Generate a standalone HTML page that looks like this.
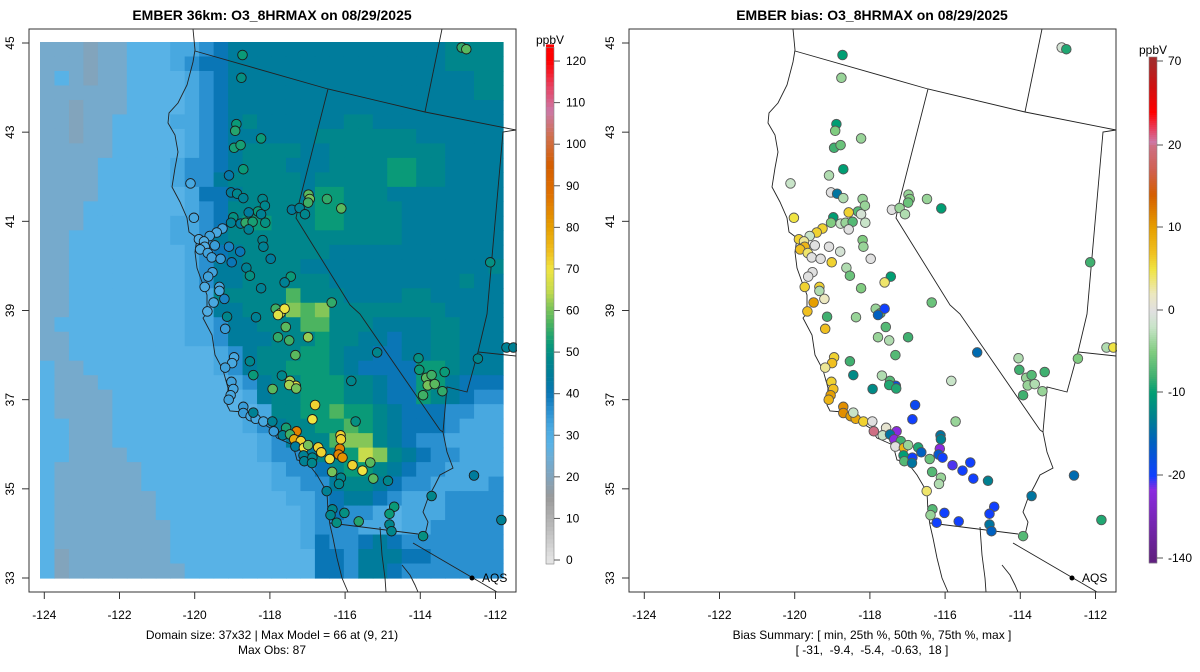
<!DOCTYPE html>
<html><head><meta charset="utf-8">
<style>
html,body{margin:0;padding:0;background:#fff;}
svg{display:block;font-family:"Liberation Sans",Arial,sans-serif;}
</style></head>
<body>
<svg id="chart" width="1200" height="672" viewBox="0 0 1200 672" xmlns="http://www.w3.org/2000/svg">
<g id="left"></g>
<g id="right" transform="translate(600,0)"></g>
</svg>
<script>
// ---------- DATA ----------
// model grid (32 cols x 37 rows), each char a level index into levelVals (ppb)
const levelChars = "abcdefghijklm";
const levelVals = [20,23,28,32,36,40,44,48,52,57,61,65,69];
const gridRows = [
"bbbabbcccddefggggggggggggggghhhh",
"bbbabbcccdeffggggggggggggggghhhh",
"bcbabbccccdefggggggggggggggggghh",
"bbbbbbccccdefggggggggggggggggghh",
"bbabbbccccdefggggggggggggggggggg",
"bbabbccccddefghgggggghhggggggggg",
"bbabbcccccdefgggggghhhhhhhgggggg",
"bbbbbcccccdefghhhhgghhhhhhhhgggg",
"bbbbcccccdeefghhhggghhhhiihhgggg",
"bbbbcccccdeeghhhhhghhhhhiihhgggg",
"bbbbccccccdffghhhhgiihhhgggggggg",
"bbbcccccccdefhhhhhhiihhhhggggggg",
"bbbccccccddefhiihhhiihhhhggggggg",
"bbcccccccddeghhhhhhhhhhhhggggggg",
"bbccccccccdefghhhhhhgggggggggggg",
"bbccccccccdegghhhhgggggggggggggh",
"bbccccccccdegghhhhhhggggggggghgg",
"bbccccccccddhhhhhjhhhgggghhggggg",
"bbccccccccddgghhhkjkhhhhhhhhgggg",
"bcccccccccddegghhhjjhhhgggghhggg",
"bbccccccccddeggghhhihhggfgghhggg",
"bbccccccccccdeghhhiihggffgghhggg",
"cbbcccccccccdeghhiiihgffffiihggg",
"cbbbcccccccccdeghhiiihhgffiigfff",
"cbbbbcccccccccdghhiiihhgffihgfee",
"cbbbbccccccccccdhhiijiihgfffeedd",
"ccbbbcccccccccdeghhiijihgfffeddd",
"ccbbbccccccccccdeghhjkkhgfeedddd",
"ccbbbbcccccccccdeeghhilkhgfeeddd",
"cbbbbbbcccccccccdeefhiihgfeedddd",
"cbbbbbbcccccccccddeeghhgfeedddde",
"cbbbbbbbcccccccccddefggfedddeeee",
"cbbbbbbbccccccccccdefeedcdddeeee",
"cbbbbbbbbcccccccccdeeeddcddeeeee",
"cbbbbbbbbcccccccccdfeefgfeeeeeee",
"cabbbbbbbccccccccccffegggffeeeee",
"cabbbbbbbbcccccccccffeggfeeeeeee"
];
// monitoring sites
const siteLon = [-118.88,-118.91,-113.2,-113.08,-119.04,-119.07,-118.40,-119.10,-118.93,-118.86,-119.23,-120.23,-119.18,-119.02,-118.86,-118.36,-118.30,-118.48,-118.72,-118.40,-119.12,-119.18,-118.93,-118.80,-118.62,-118.29,-118.72,-120.14,-119.40,-119.55,-119.73,-120.01,-119.88,-119.86,-119.98,-119.78,-119.60,-119.23,-118.94,-119.68,-119.45,-119.16,-118.36,-118.34,-118.15,-118.78,-118.69,-119.66,-119.77,-119.86,-119.48,-119.48,-119.35,-118.40,-117.63,-117.79,-119.63,-119.79,-117.17,-117.14,-117.18,-116.69,-116.32,-117.60,-117.40,-117.26,-112.46,-118.02,-117.90,-117.79,-116.57,-119.28,-118.53,-119.33,-117.96,-117.76,-117.96,-117.67,-117.18,-117.51,-115.39,-119.10,-119.15,-119.33,-118.69,-118.60,-117.86,-117.65,-117.50,-117.67,-117.49,-118.10,-116.06,-117.00,-117.07,-115.95,-119.17,-119.12,-119.19,-119.24,-118.86,-118.86,-118.67,-118.54,-118.60,-118.34,-118.11,-118.07,-117.75,-117.84,-117.48,-117.65,-117.54,-117.37,-117.51,-117.29,-117.18,-116.92,-116.84,-117.30,-117.28,-117.07,-117.08,-116.62,-116.34,-116.33,-116.36,-116.39,-116.29,-116.03,-115.77,-115.57,-115.49,-115.11,-116.56,-116.33,-116.38,-116.70,-116.55,-116.60,-116.24,-116.44,-115.87,-114.95,-115.07,-115.07,-115.02,-114.32,-114.30,-114.12,-113.98,-114.08,-113.90,-114.20,-113.70,-113.64,-112.78,-112.04,-112.88,-112.17,-113.98,-114.20,-111.86];
const siteLat = [44.73,44.22,44.90,44.86,43.18,43.03,42.86,42.65,42.71,42.17,42.03,41.85,41.65,41.62,41.52,41.50,41.35,41.22,41.20,41.16,41.09,40.97,40.95,40.97,40.99,40.97,40.82,41.08,40.84,40.75,40.67,40.60,40.55,40.43,40.37,40.29,40.46,40.43,40.32,40.19,40.16,40.08,40.58,40.43,40.16,39.96,39.78,39.86,39.76,39.53,39.53,39.44,39.26,39.50,39.76,39.63,39.18,38.98,41.60,41.50,41.42,41.50,41.29,41.26,41.30,41.16,40.08,39.04,38.94,39.04,39.18,38.86,38.85,38.59,38.90,38.63,38.40,38.33,38.40,38.00,38.06,37.95,37.82,37.72,37.86,37.55,37.54,37.42,37.31,37.33,37.25,37.24,37.42,36.88,36.56,36.51,37.40,37.24,37.10,37.00,36.84,36.70,36.63,36.57,36.71,36.51,36.51,36.29,36.37,36.20,36.29,36.22,36.11,36.07,35.95,35.92,35.98,35.93,35.82,35.75,35.62,35.70,35.58,35.67,36.20,36.11,35.90,35.77,35.70,35.53,35.41,35.59,35.23,35.18,35.38,35.25,35.11,34.95,34.54,34.41,34.46,34.24,34.27,34.60,34.44,34.20,34.05,37.93,37.67,37.49,37.55,37.32,37.35,37.10,37.19,37.62,37.92,38.17,35.30,34.30,34.84,33.94,38.17];
const obsVal = [52,50,55,58,52,54,52,53,53,52,42,32,44,48,46,48,48,52,44,46,50,46,44,55,53,50,46,32,33,32,33,30,30,30,31,33,34,38,40,33,34,40,47,46,44,46,50,33,33,31,32,32,38,46,52,46,32,30,58,60,56,55,58,44,46,48,50,56,68,70,55,48,46,34,68,58,55,56,62,58,48,32,32,33,48,52,48,63,68,63,60,58,48,72,70,50,33,32,32,33,34,34,32,32,46,32,46,34,53,46,85,56,78,72,44,70,60,72,72,46,46,48,48,70,72,72,85,85,82,72,70,58,58,48,60,48,48,46,48,48,50,50,54,52,52,48,48,50,52,58,56,60,58,56,55,52,48,46,44,46,48,50,46];
const biasVal = [-10,-4,-1,-9,-10,-5,-4,-8,-6,-10,-3,-2,0,-14,-3,-4,-4,-7,6,-1,-10,-5,-2,-4,-7,-2,0,5,6,6,-2,6,3,8,7,4,0,0,-1,0,0,6,-5,-4,0,-3,-6,0,0,6,6,-3,2,-5,-10,4,10,7,-4,-5,-6,-4,-10,0,-4,-3,-8,-4,-7,-20,-6,-8,-4,7,-16,-7,-4,-3,-8,-7,-15,6,7,3,-8,-12,-3,-7,-18,-9,-9,-12,-2,-19,-20,-4,6,7,10,8,11,11,10,9,-2,6,0,20,1,-2,-40,-14,-40,-8,0,8,-4,-9,-16,-10,-7,-20,-14,-6,-14,-13,-40,-17,-20,-30,-20,-20,-20,-13,-7,-4,-3,4,-7,-4,-20,-20,-20,-20,-20,-14,-16,-3,-8,-4,-7,-4,-3,-8,-4,-8,-5,-3,-15,-9,-14,-7,5];
// colour bar / axis ticks
const obsTicks = [0,10,20,30,40,50,60,70,80,90,100,110,120];
const biasTicks = [-140,-20,-10,0,10,20,70];
const lonTicks = [-124,-122,-120,-118,-116,-114,-112];
const latTicks = [33,35,37,39,41,43,45];

// ---------- SCALES ----------
const NS = "http://www.w3.org/2000/svg";
function xOf(lon){ return 45 + (lon + 124) * 38.583; }      // map projection for marks
function xTick(lon){ return 44.3 + (lon + 124) * 37.6; }   // printed graticule labels
function yOf(lat){ return 43 + (45 - lat) * 44.583; }
function hex(c){ return [parseInt(c.slice(1,3),16),parseInt(c.slice(3,5),16),parseInt(c.slice(5,7),16)]; }
function ramp(stops, v){
  if (v <= stops[0][0]) return stops[0][1];
  if (v >= stops[stops.length-1][0]) return stops[stops.length-1][1];
  for (let i=0;i<stops.length-1;i++){
    if (v>=stops[i][0] && v<=stops[i+1][0]){
      const t=(v-stops[i][0])/(stops[i+1][0]-stops[i][0]);
      const a=hex(stops[i][1]), b=hex(stops[i+1][1]);
      return "rgb("+a.map((x,k)=>Math.round(x+(b[k]-x)*t)).join(",")+")";
    }
  }
}
const obsStops = [[0,"#e4e4e4"],[6,"#c4c4c4"],[15,"#9a9a9a"],[20,"#82a4bc"],[23,"#76aacc"],[25,"#6aaed8"],[28,"#58b2e6"],[32,"#48a8e0"],[36,"#2a90d0"],[40,"#0a76b6"],[44,"#007c9c"],[48,"#00868c"],[52,"#0a9a78"],[57,"#4cb460"],[61,"#84c658"],[65,"#c8dc4c"],[70,"#f0e442"],[74,"#f0c020"],[80,"#e69f00"],[88,"#e07000"],[95,"#d55e00"],[102,"#d07050"],[108,"#cc79a7"],[114,"#e84060"],[120,"#ff0000"]];
const biasStops = [[-140,"#602080"],[-40,"#8a2ae0"],[-20,"#1040ff"],[-16,"#0060c0"],[-13,"#008090"],[-10,"#009e73"],[-8,"#40b070"],[-5,"#80cc80"],[-2,"#c8e4c8"],[0,"#e0e0e0"],[2,"#ece8c0"],[5,"#f0e442"],[7,"#f0c020"],[10,"#e69f00"],[14,"#d55e00"],[17,"#d06050"],[22,"#cc79a7"],[30,"#e84060"],[40,"#ff0000"],[55,"#d01010"],[70,"#a52a2a"]];
const biasPos=[[-140,558],[-20,475],[-10,392],[0,310],[10,227],[20,145],[70,61]];
function biasY(v){
  const p=biasPos;
  for(let i=0;i<p.length-1;i++){ if(v>=p[i][0]&&v<=p[i+1][0]){const t=(v-p[i][0])/(p[i+1][0]-p[i][0]);return p[i][1]+(p[i+1][1]-p[i][1])*t;} }
  return v<-140?558:61;
}
function obsY(v){ return 560 - v*4.158; }

function el(parent, tag, attrs, text){
  const e=document.createElementNS(NS,tag);
  for(const k in attrs) e.setAttribute(k, attrs[k]);
  if(text!==undefined) e.textContent=text;
  parent.appendChild(e); return e;
}

// ---------- MAP LINES (pixel geometry) ----------
const coast = [[193,29],[195,50],[193,62],[187,85],[178,103],[169,113],[168,123],[175,135],[178,152],[175,168],[172,187],[180,202],[187,218],[189,232],[197,238],[195,252],[197,268],[202,282],[207,295],[207,313],[203,318],[212,335],[215,355],[223,370],[228,388],[227,405],[230,411],[243,412],[257,420],[270,428],[277,438],[293,445],[297,460],[307,462],[317,475],[327,492],[328,512],[330,525],[333,538],[337,558],[342,578],[348,592]];
const borders = [
 [[195,51],[328,89],[425,112],[516,130]],
 [[442,29],[425,112]],
 [[328,89],[299,203],[296,218],[350,305],[360,314],[440,430]],
 [[440,430],[443,432],[447,452],[453,468],[440,475],[435,485],[428,498],[423,512],[428,522],[425,535]],
 [[330,523],[418,534]],
 [[413,543],[473,578],[497,592]],
 [[516,130],[503,132],[487,314],[478,352],[516,356]],
 [[478,352],[467,392],[447,387],[443,432]],
 [[402,565],[410,575],[415,585],[418,592]],
 [[380,527],[382,555],[385,578],[386,592]]
];

function drawPanel(g, mode){
  const title = mode==="obs" ? "EMBER 36km: O3_8HRMAX on 08/29/2025" : "EMBER bias: O3_8HRMAX on 08/29/2025";
  const t=el(g,"text",{x:272,y:20,"text-anchor":"middle","font-size":"14","font-weight":"bold",fill:"#000"},title);
  
  
  if(mode==="obs"){
    const rg=el(g,"g",{});
    
    
    const cw=(503-40)/32, ch=(578-42)/37;
    gridRows.forEach((row,r)=>{
      for(let c=0;c<32;c++){
        const chr=row[c]||row[row.length-1];
        const v=levelVals[levelChars.indexOf(chr)];
        const cell=el(rg,"rect",{x:(40+c*cw).toFixed(2),y:(42+r*ch).toFixed(2),width:(cw+0.6).toFixed(2),height:(ch+0.6).toFixed(2),fill:ramp(obsStops,v)});
        
        
      }
    });
  }
  const lg=el(g,"g",{fill:"none",stroke:"#222","stroke-width":"0.9"});
  
  
  el(lg,"polyline",{points:coast.map(p=>p.join(",")).join(" ")});
  borders.forEach(b=>el(lg,"polyline",{points:b.map(p=>p.join(",")).join(" ")}));
  const aq=el(g,"circle",{cx:472,cy:578,r:2.5,fill:"#000"});
  
  
  const aqt=el(g,"text",{x:482,y:582,"font-size":"12",fill:"#000"},"AQS");
  
  
  const sg=el(g,"g",{});
  
  
  for(let i=0;i<siteLon.length;i++){
    const x=xOf(siteLon[i]), y=yOf(siteLat[i]);
    if(x>516) continue;
    const col = mode==="obs" ? ramp(obsStops,obsVal[i]) : ramp(biasStops,biasVal[i]);
    const c=el(sg,"circle",{cx:x.toFixed(1),cy:y.toFixed(1),r:4.8,fill:col,stroke:mode==="obs"?"#1a1a1a":"#555","stroke-width":"0.9"});
    
    
  }
  el(g,"rect",{x:517,y:0,width:20,height:620,fill:"#fff"});
  const box=el(g,"rect",{x:29,y:29,width:487,height:563,fill:"none",stroke:"#333","stroke-width":"1"});
  
  
  const xa=el(g,"g",{"font-size":"12",fill:"#000"});
  
  
  lonTicks.forEach(v=>{
    const x=xTick(v);
    el(xa,"line",{x1:x,y1:592,x2:x,y2:599,stroke:"#333"});
    const tl=el(xa,"text",{x:x,y:619,"text-anchor":"middle"},String(v));
    
    
  });
  const ya=el(g,"g",{"font-size":"12",fill:"#000"});
  
  
  latTicks.forEach(v=>{
    const y=yOf(v);
    el(ya,"line",{x1:22,y1:y,x2:29,y2:y,stroke:"#333"});
    const tl=el(ya,"text",{x:14,y:y,"text-anchor":"middle",transform:"rotate(-90 14 "+y+")"},String(v));
    
    
  });
  const cb=el(g,"g",{"font-size":"12",fill:"#000"});
  
  
  if(mode==="obs"){
    for(let v=-1;v<123.4;v+=1){
      el(cb,"rect",{x:546,y:obsY(v+1).toFixed(2),width:8,height:4.4,fill:ramp(obsStops,v+0.5)});
    }
    el(cb,"rect",{x:546,y:47.5,width:8,height:516.5,fill:"none",stroke:"#888","stroke-width":"0.6"});
    el(cb,"text",{x:550,y:44,"text-anchor":"middle"},"ppbV");
    obsTicks.forEach(v=>{
      const y=obsY(v);
      el(cb,"line",{x1:554,y1:y,x2:560,y2:y,stroke:"#555"});
      const tl=el(cb,"text",{x:566,y:y+4},String(v));
      
      
    });
  } else {
    for(let y=57;y<563;y+=2){
      let v=0; const p=biasPos;
      for(let i=0;i<p.length-1;i++){ if(y<=p[i][1]&&y>=p[i+1][1]){v=p[i][0]+(p[i+1][0]-p[i][0])*(y-p[i][1])/(p[i+1][1]-p[i][1]);} }
      if(y>558) v=-140; if(y<61) v=70;
      el(cb,"rect",{x:549,y:y,width:8,height:2.3,fill:ramp(biasStops,v)});
    }
    el(cb,"rect",{x:549,y:57,width:8,height:506,fill:"none",stroke:"#888","stroke-width":"0.6"});
    el(cb,"text",{x:553,y:54,"text-anchor":"middle"},"ppbV");
    biasTicks.forEach(v=>{
      const y=biasY(v);
      el(cb,"line",{x1:557,y1:y,x2:563,y2:y,stroke:"#555"});
      const tl=el(cb,"text",{x:568,y:y+4},String(v));
      
      
    });
  }
  const l1 = mode==="obs" ? "Domain size: 37x32 | Max Model = 66 at (9, 21)" : "Bias Summary: [ min, 25th %, 50th %, 75th %, max ]";
  const l2 = mode==="obs" ? "Max Obs: 87" : "[ -31,  -9.4,  -5.4,  -0.63,  18 ]";
  const f1=el(g,"text",{x:272,y:639,"text-anchor":"middle","font-size":"12",fill:"#000"},l1);
  
  
  const f2=el(g,"text",{x:272,y:654,"text-anchor":"middle","font-size":"12",fill:"#000"},l2);
  
  
  f2.style.whiteSpace="pre";
}
drawPanel(document.getElementById("left"),"obs");
drawPanel(document.getElementById("right"),"bias");
</script>
</body></html>
